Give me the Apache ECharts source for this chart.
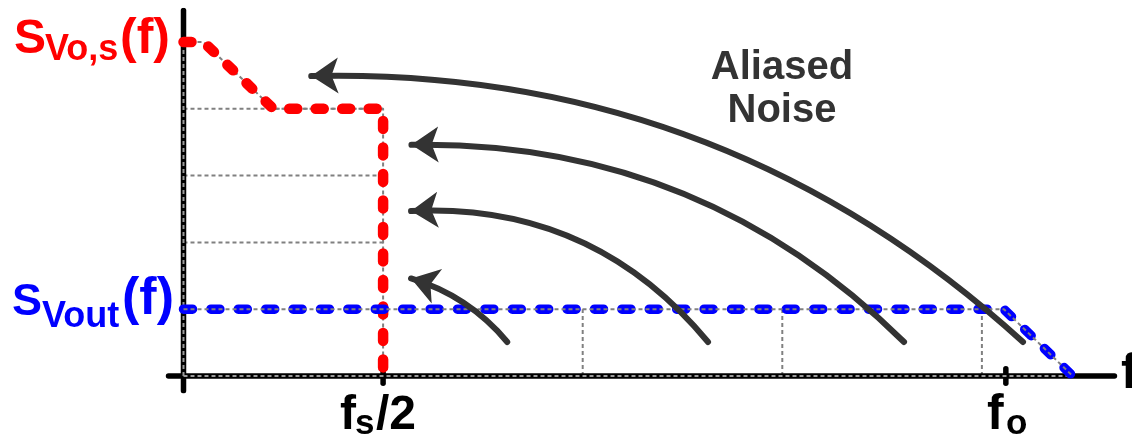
<!DOCTYPE html>
<html>
<head>
<meta charset="utf-8">
<script src="https://cdn.jsdelivr.net/npm/echarts@6/dist/echarts.min.js"></script>
<style>
  html, body { margin: 0; padding: 0; background: #fff; }
  #chart { width: 1132px; height: 441px; }
</style>
</head>
<body>
<div id="chart"></div>
<script>
// Frequency is in units of fs/2, noise density in units of the output noise level.
const outputPsd = [[0, 1], [4.11, 1], [4.455, 0]];
const sampledPsd = [[0, 5], [0.1, 5], [0.45, 4], [1, 4], [1, 0]];
const foldLevels = [2, 3, 4];
const foldFreqs = [2, 3, 4];
const tickFreqs = [1, 4.12];
const arrowTails = [[4.206, 0.509], [3.61, 0.509], [2.628, 0.509], [1.622, 0.509]];
const arrowHeads = [[0.64, 4.49], [1.142, 3.46], [1.14, 2.47], [1.14, 1.46]];
const arrowBend = [-0.2, -0.21, -0.25, -0.15];
const xRange = [-0.075, 4.664];
const yRange = [-0.22, 5.47];
const tickHalfLen = 0.11;

const FONT = 'Liberation Sans, Arial, sans-serif';
const GUIDE = { color: '#808080', width: 2, type: [4, 3] };

function seg(points, lineStyle, z) {
  return {
    type: 'line', data: points, showSymbol: false, silent: true, animation: false,
    lineStyle: Object.assign({ cap: 'butt', join: 'round' }, lineStyle), z: z
  };
}

const series = [];
// dotted guides: stacked fold levels and fold frequencies
foldLevels.forEach(l => series.push(seg([[0, l], [tickFreqs[0], l]], GUIDE, 2)));
foldFreqs.forEach(f => series.push(seg([[f, 0], [f, outputPsd[0][1]]], GUIDE, 2)));
series.push(seg(sampledPsd, GUIDE, 2));
// axes
series.push(seg([[xRange[0], 0], [xRange[1], 0]], { color: '#000', width: 5.5, cap: 'round' }, 3));
series.push(seg([[0, yRange[0]], [0, yRange[1]]], { color: '#000', width: 5.5, cap: 'round' }, 3));
tickFreqs.forEach(f => series.push(seg([[f, -tickHalfLen], [f, tickHalfLen]], { color: '#000', width: 5.5, cap: 'round' }, 3)));
series.push(seg([[0, 0], [outputPsd[outputPsd.length - 1][0], 0]], { color: '#9a9a9a', width: 2, type: [4, 3] }, 4));
series.push(seg([[0, 0], [0, sampledPsd[0][1]]], { color: '#9a9a9a', width: 2, type: [4, 3] }, 4));
// noise densities
series.push(seg(sampledPsd, { color: '#ff0000', width: 10.5, type: [8, 18.5], cap: 'round' }, 5));
series.push(seg(outputPsd, { color: '#0000ff', width: 9.5, type: [9, 18.4], cap: 'round' }, 6));
series.push(seg(outputPsd, GUIDE, 7));
// folding arrows
series.push({
  type: 'lines', coordinateSystem: 'cartesian2d', silent: true, animation: false, z: 10,
  symbol: ['none', 'arrow'], symbolSize: 27,
  lineStyle: { color: '#333333', width: 6, opacity: 1, cap: 'round' },
  data: arrowTails.map((t, i) => ({ coords: [t, arrowHeads[i]], lineStyle: { curveness: arrowBend[i] } }))
});

function txt(text, x, y, size, fill, align) {
  return {
    type: 'text', x: x, y: y, silent: true, z: 20,
    style: { text: text, fontSize: size, fontWeight: 'bold', fontFamily: FONT, fill: fill,
             align: align || 'left', verticalAlign: 'middle' }
  };
}

const graphics = [
  txt('S', 14, 40, 48, '#ff0000'), txt('Vo,s', 45, 50, 36, '#ff0000'), txt('(f)', 120, 39.5, 50, '#ff0000'),
  txt('S', 12, 302.6, 45, '#0000ff'), txt('Vout', 42, 317.4, 36, '#0000ff'), txt('(f)', 122, 300, 52, '#0000ff'),
  txt('f', 340, 416, 48, '#000'), txt('s', 355, 424, 35, '#000'), txt('/2', 376, 416, 48, '#000'),
  txt('f', 987, 415, 50, '#000'), txt('o', 1006, 424, 35, '#000'),
  txt('f', 1121, 374, 50, '#000'),
  txt('Aliased', 782, 68, 40, '#333333', 'center'), txt('Noise', 782, 111, 40, '#333333', 'center')
];

const chart = echarts.init(document.getElementById('chart'), null, { renderer: 'canvas' });
chart.setOption({
  animation: false,
  backgroundColor: '#ffffff',
  grid: { left: 168.53, top: 10.6, width: 945.9, height: 380.1 },
  xAxis: { type: 'value', min: xRange[0], max: xRange[1], show: false },
  yAxis: { type: 'value', min: yRange[0], max: yRange[1], show: false },
  series: series,
  graphic: graphics
});
</script>
</body>
</html>
